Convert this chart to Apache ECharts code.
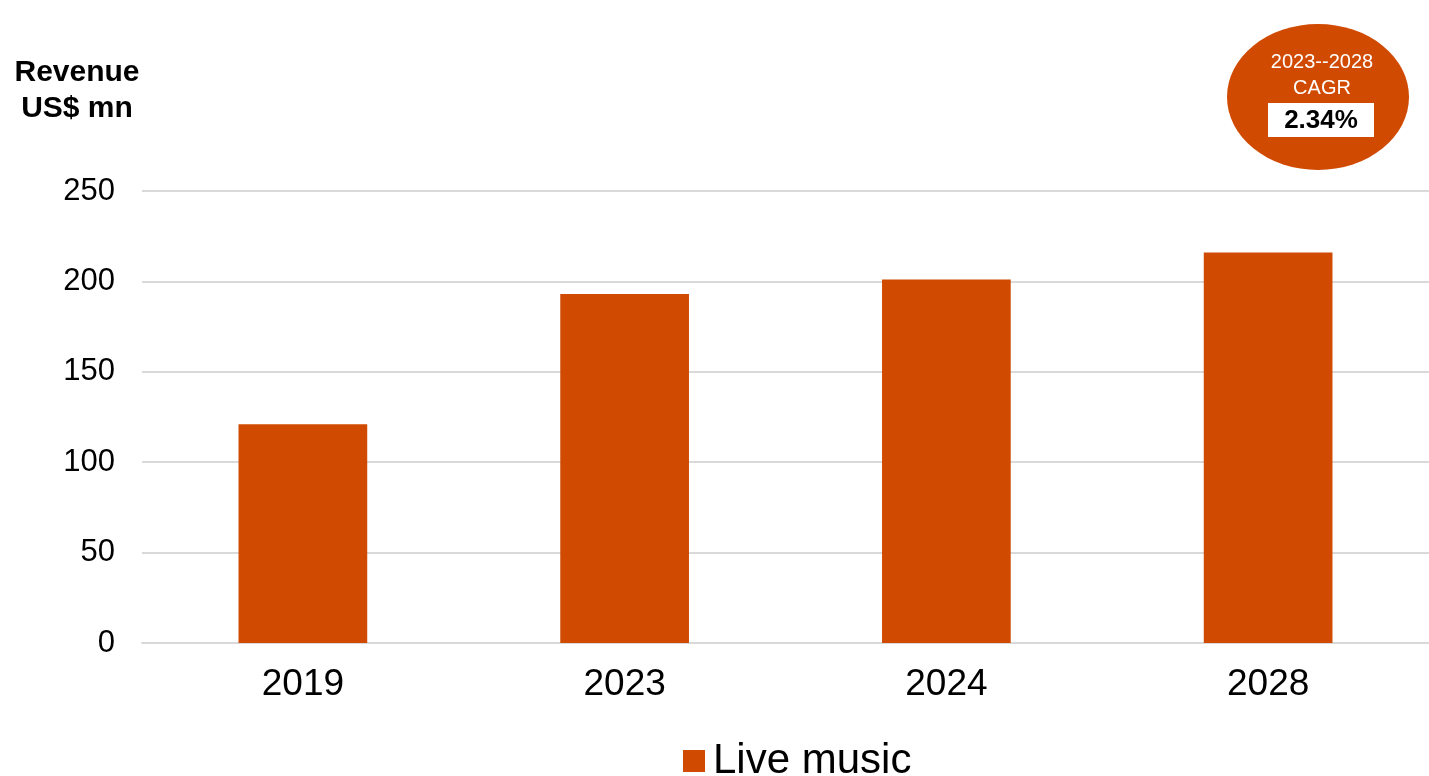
<!DOCTYPE html>
<html>
<head>
<meta charset="utf-8">
<script src="https://cdn.jsdelivr.net/npm/echarts@6/dist/echarts.min.js"></script>
<style>
html,body{margin:0;padding:0;background:#fff;}
#chart{width:1429px;height:776px;}
</style>
</head>
<body>
<div id="chart"></div>
<script>
const categories = ['2019', '2023', '2024', '2028'];
const liveMusic = [121, 193, 201, 216];
const yTicks = [0, 50, 100, 150, 200, 250];
const seriesName = 'Live music';
const cagrPeriod = '2023--2028';
const cagrLabel = 'CAGR';
const cagrValue = '2.34%';

const FONT = '"Liberation Sans", Arial, sans-serif';
const ORANGE = '#D04A02';

const chart = echarts.init(document.getElementById('chart'));
chart.setOption({
  animation: false,
  grid: { left: 142, right: 0, top: 191, bottom: 133 },
  legend: {
    data: [seriesName],
    left: 678, top: 735,
    icon: 'rect', itemWidth: 22, itemHeight: 22,
    textStyle: { fontFamily: FONT, fontSize: 42, color: '#000', padding: [0, 0, 0, 3] }
  },
  xAxis: {
    type: 'category', data: categories,
    axisLine: { lineStyle: { color: '#d9d9d9', width: 2 } },
    axisTick: { show: false },
    axisLabel: { fontFamily: FONT, fontSize: 37, color: '#000', margin: 23 }
  },
  yAxis: {
    type: 'value', min: yTicks[0], max: yTicks[yTicks.length - 1], interval: yTicks[1] - yTicks[0],
    axisLine: { show: false }, axisTick: { show: false },
    axisLabel: { fontFamily: FONT, fontSize: 31, color: '#000', margin: 27 },
    splitLine: { lineStyle: { color: '#d9d9d9', width: 2 } }
  },
  series: [{
    name: seriesName, type: 'bar', data: liveMusic,
    barCategoryGap: '60%',
    itemStyle: { color: ORANGE }
  }],
  graphic: [
    { type: 'text', x: 77, y: 73, style: { text: 'Revenue', fontFamily: FONT, fontSize: 30, fontWeight: 'bold', fill: '#000', align: 'center', verticalAlign: 'middle' } },
    { type: 'text', x: 77, y: 109, style: { text: 'US$ mn', fontFamily: FONT, fontSize: 30, fontWeight: 'bold', fill: '#000', align: 'center', verticalAlign: 'middle' } },
    { type: 'circle', x: 1318, y: 97, scaleX: 91 / 73, shape: { cx: 0, cy: 0, r: 73 }, style: { fill: ORANGE } },
    { type: 'text', x: 1322, y: 62, style: { text: cagrPeriod, fontFamily: FONT, fontSize: 20, fill: '#fff', align: 'center', verticalAlign: 'middle' } },
    { type: 'text', x: 1322, y: 88, style: { text: cagrLabel, fontFamily: FONT, fontSize: 20, fill: '#fff', align: 'center', verticalAlign: 'middle' } },
    { type: 'rect', shape: { x: 1268, y: 103, width: 106, height: 34 }, style: { fill: '#fff' } },
    { type: 'text', x: 1321, y: 121, style: { text: cagrValue, fontFamily: FONT, fontSize: 26, fontWeight: 'bold', fill: '#000', align: 'center', verticalAlign: 'middle' } }
  ]
});
</script>
</body>
</html>
